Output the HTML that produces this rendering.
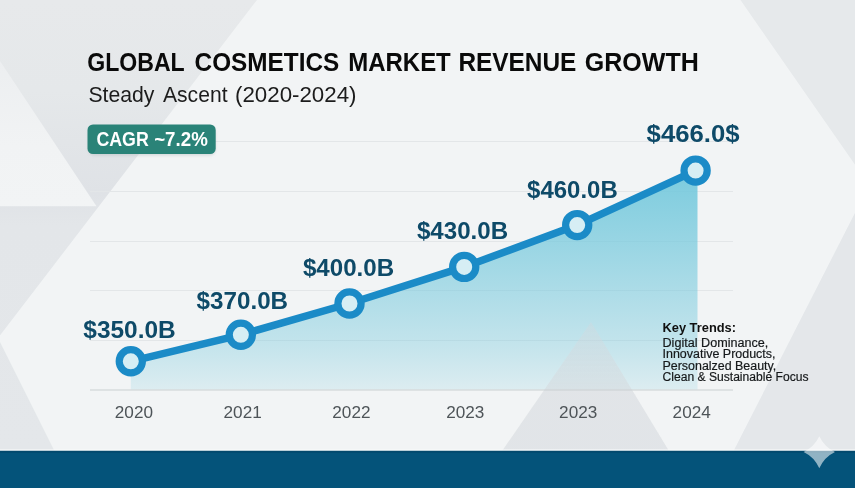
<!DOCTYPE html>
<html>
<head>
<meta charset="utf-8">
<title>Global Cosmetics Market Revenue Growth</title>
<style>
html,body{margin:0;padding:0;background:#f2f4f5;}
body{width:855px;height:488px;overflow:hidden;font-family:"Liberation Sans",sans-serif;}
svg{display:block;will-change:transform;}
text{font-family:"Liberation Sans",sans-serif;}
</style>
</head>
<body>
<svg width="855" height="488" viewBox="0 0 855 488">
  <defs>
    <linearGradient id="fillg" gradientUnits="userSpaceOnUse" x1="0" y1="170" x2="0" y2="390">
      <stop offset="0" stop-color="#72c8dc" stop-opacity="0.93"/>
      <stop offset="0.5" stop-color="#72c8dc" stop-opacity="0.58"/>
      <stop offset="0.8" stop-color="#72c8dc" stop-opacity="0.36"/>
      <stop offset="1" stop-color="#72c8dc" stop-opacity="0.17"/>
    </linearGradient>
    <linearGradient id="trig" gradientUnits="userSpaceOnUse" x1="0" y1="322" x2="0" y2="450">
      <stop offset="0" stop-color="#d5d9dd" stop-opacity="0.34"/>
      <stop offset="0.53" stop-color="#d5d9dd" stop-opacity="0.56"/>
      <stop offset="1" stop-color="#d5d9dd" stop-opacity="0.56"/>
    </linearGradient>
    <linearGradient id="lg" gradientUnits="userSpaceOnUse" x1="0" y1="0" x2="0" y2="450">
      <stop offset="0" stop-color="#e7e9eb"/>
      <stop offset="0.2" stop-color="#e5e8ea"/>
      <stop offset="0.43" stop-color="#dfe2e6"/>
      <stop offset="0.5" stop-color="#e3e6e9"/>
      <stop offset="1" stop-color="#e4e7ea"/>
    </linearGradient>
    <linearGradient id="ltri" gradientUnits="userSpaceOnUse" x1="0" y1="55" x2="0" y2="206">
      <stop offset="0" stop-color="#eceef0"/>
      <stop offset="0.6" stop-color="#f1f3f4"/>
      <stop offset="1" stop-color="#f2f4f5"/>
    </linearGradient>
    <filter id="bl" x="-5%" y="-5%" width="110%" height="110%"><feGaussianBlur stdDeviation="0.7"/></filter>
    <filter id="sh" x="-10%" y="-30%" width="120%" height="170%"><feGaussianBlur stdDeviation="1.5"/></filter>
  </defs>
  <!-- background -->
  <rect x="0" y="0" width="855" height="488" fill="#f2f4f5"/>
  <g filter="url(#bl)">
    <!-- left gray region -->
    <polygon points="-5,-5 260.8,-5 -2,338 56.5,455 -5,455" fill="url(#lg)"/>
    <!-- left light triangle -->
    <polygon points="-5,53.5 96.5,206.3 -5,206.3" fill="url(#ltri)"/>
    <!-- top right gray -->
    <polygon points="737,-5 860,-5 860,172" fill="#e6e9eb"/>
    <!-- right bottom triangle -->
    <polygon points="860,203 860,455 731.5,455" fill="#e4e7ea"/>
  </g>
  <!-- gridlines -->
  <g stroke="#e3e6e8" stroke-width="1">
    <line x1="90" y1="141.5" x2="733" y2="141.5"/>
    <line x1="90" y1="191.5" x2="733" y2="191.5"/>
    <line x1="90" y1="241.5" x2="733" y2="241.5"/>
    <line x1="90" y1="290.5" x2="733" y2="290.5"/>
    <line x1="90" y1="340.5" x2="733" y2="340.5"/>
  </g>
  <!-- area fill -->
  <polygon points="130.8,361.3 240.85,334.8 349.5,303.5 464.2,266.9 577.2,225.1 697.5,170.6 697.5,389.5 130.8,389.5" fill="url(#fillg)"/>
  <!-- center triangle overlay -->
  <polygon points="591,322 502,451 669,451" fill="url(#trig)" filter="url(#bl)"/>
  <line x1="90" y1="390" x2="733" y2="390" stroke="#c9cfd2" stroke-width="1.2"/>
  <!-- line -->
  <polyline points="130.8,361.3 240.85,334.8 349.5,303.5 464.2,266.9 577.2,225.1 695.6,170.6" fill="none" stroke="#1b8bc7" stroke-width="7.5" stroke-linejoin="round" stroke-linecap="round"/>
  <!-- points -->
  <g fill="#d6eef4" stroke="#1b8bc7" stroke-width="7.2">
    <circle cx="130.8" cy="361.3" r="11.6"/>
    <circle cx="240.85" cy="334.8" r="11.6"/>
    <circle cx="349.5" cy="303.5" r="11.6"/>
    <circle cx="464.2" cy="266.9" r="11.6"/>
    <circle cx="577.2" cy="225.1" r="11.6"/>
    <circle cx="695.6" cy="170.6" r="11.6"/>
  </g>
  <!-- value labels -->
  <g font-weight="bold" font-size="24px" fill="#0e4a68">
    <text x="83.3" y="337.6" textLength="92.4" lengthAdjust="spacingAndGlyphs">$350.0B</text>
    <text x="196.6" y="309.3" textLength="91.5" lengthAdjust="spacingAndGlyphs">$370.0B</text>
    <text x="302.9" y="276.4" textLength="91.2" lengthAdjust="spacingAndGlyphs">$400.0B</text>
    <text x="416.9" y="239" textLength="91.2" lengthAdjust="spacingAndGlyphs">$430.0B</text>
    <text x="527.1" y="197.5" textLength="90.6" lengthAdjust="spacingAndGlyphs">$460.0B</text>
    <text x="646.6" y="142" font-size="24.8px" textLength="93" lengthAdjust="spacingAndGlyphs">$466.0$</text>
  </g>
  <!-- year labels -->
  <g font-size="16.6px" fill="#4e5458">
    <text x="114.80" y="418.4" textLength="38.2" lengthAdjust="spacingAndGlyphs">2020</text>
    <text x="223.55" y="418.4" textLength="38.2" lengthAdjust="spacingAndGlyphs">2021</text>
    <text x="332.30" y="418.4" textLength="38.2" lengthAdjust="spacingAndGlyphs">2022</text>
    <text x="446.20" y="418.4" textLength="38.2" lengthAdjust="spacingAndGlyphs">2023</text>
    <text x="559.10" y="418.4" textLength="38.2" lengthAdjust="spacingAndGlyphs">2023</text>
    <text x="672.60" y="418.4" textLength="38.2" lengthAdjust="spacingAndGlyphs">2024</text>
  </g>
  <!-- title -->
  <g font-size="25.2px" font-weight="bold" fill="#0a0a0a">
    <text x="87.2" y="71" textLength="97.5" lengthAdjust="spacingAndGlyphs">GLOBAL</text>
    <text x="194.6" y="71" textLength="144.6" lengthAdjust="spacingAndGlyphs">COSMETICS</text>
    <text x="348.2" y="71" textLength="102.6" lengthAdjust="spacingAndGlyphs">MARKET</text>
    <text x="458.4" y="71" textLength="118" lengthAdjust="spacingAndGlyphs">REVENUE</text>
    <text x="584.8" y="71" textLength="114" lengthAdjust="spacingAndGlyphs">GROWTH</text>
  </g>
  <g font-size="22px" fill="#1c1c1c">
    <text x="88.4" y="101.6" textLength="66" lengthAdjust="spacingAndGlyphs">Steady</text>
    <text x="163" y="101.6" textLength="64.5" lengthAdjust="spacingAndGlyphs">Ascent</text>
    <text x="235" y="101.6" textLength="121.5" lengthAdjust="spacingAndGlyphs">(2020-2024)</text>
  </g>
  <!-- badge -->
  <rect x="88.5" y="127" width="127" height="28.5" rx="6" fill="#9aa5a8" fill-opacity="0.35" filter="url(#sh)"/>
  <rect x="87.5" y="124.4" width="128.2" height="29.6" rx="5.5" fill="#2a8378"/>
  <g font-size="20px" font-weight="bold" fill="#ffffff">
    <text x="96.4" y="146" textLength="52.4" lengthAdjust="spacingAndGlyphs">CAGR</text>
    <text x="154.2" y="146" textLength="53.6" lengthAdjust="spacingAndGlyphs">~7.2%</text>
  </g>
  <!-- key trends -->
  <text x="662.5" y="332.3" font-size="13px" font-weight="bold" fill="#101010" textLength="73.5" lengthAdjust="spacingAndGlyphs">Key Trends:</text>
  <g font-size="12px" fill="#15181a" stroke="#15181a" stroke-width="0.18">
    <text x="662.5" y="346.5" textLength="105.8" lengthAdjust="spacingAndGlyphs">Digital Dominance,</text>
    <text x="662.5" y="358.2" textLength="113" lengthAdjust="spacingAndGlyphs">Innovative Products,</text>
    <text x="662.5" y="369.7" textLength="113.8" lengthAdjust="spacingAndGlyphs">Personalzed Beauty,</text>
    <text x="662.5" y="381.2" textLength="146" lengthAdjust="spacingAndGlyphs">Clean &amp; Sustainable Focus</text>
  </g>
  <!-- bottom bar -->
  <rect x="0" y="450.5" width="855" height="38" fill="#04537a"/>
  <rect x="0" y="450.5" width="855" height="2.2" fill="#034669" fill-opacity="0.75"/>
  <rect x="0" y="449.4" width="855" height="1.3" fill="#fbfcfc" fill-opacity="0.9"/>
  <!-- sparkle -->
  <path d="M819.3 436.2 Q824.3 446.9 835 451.9 Q824.3 456.9 819.3 468.2 Q814.3 456.9 803.6 451.9 Q814.3 446.9 819.3 436.2 Z" fill="#ffffff" fill-opacity="0.56"/>
</svg>
</body>
</html>
